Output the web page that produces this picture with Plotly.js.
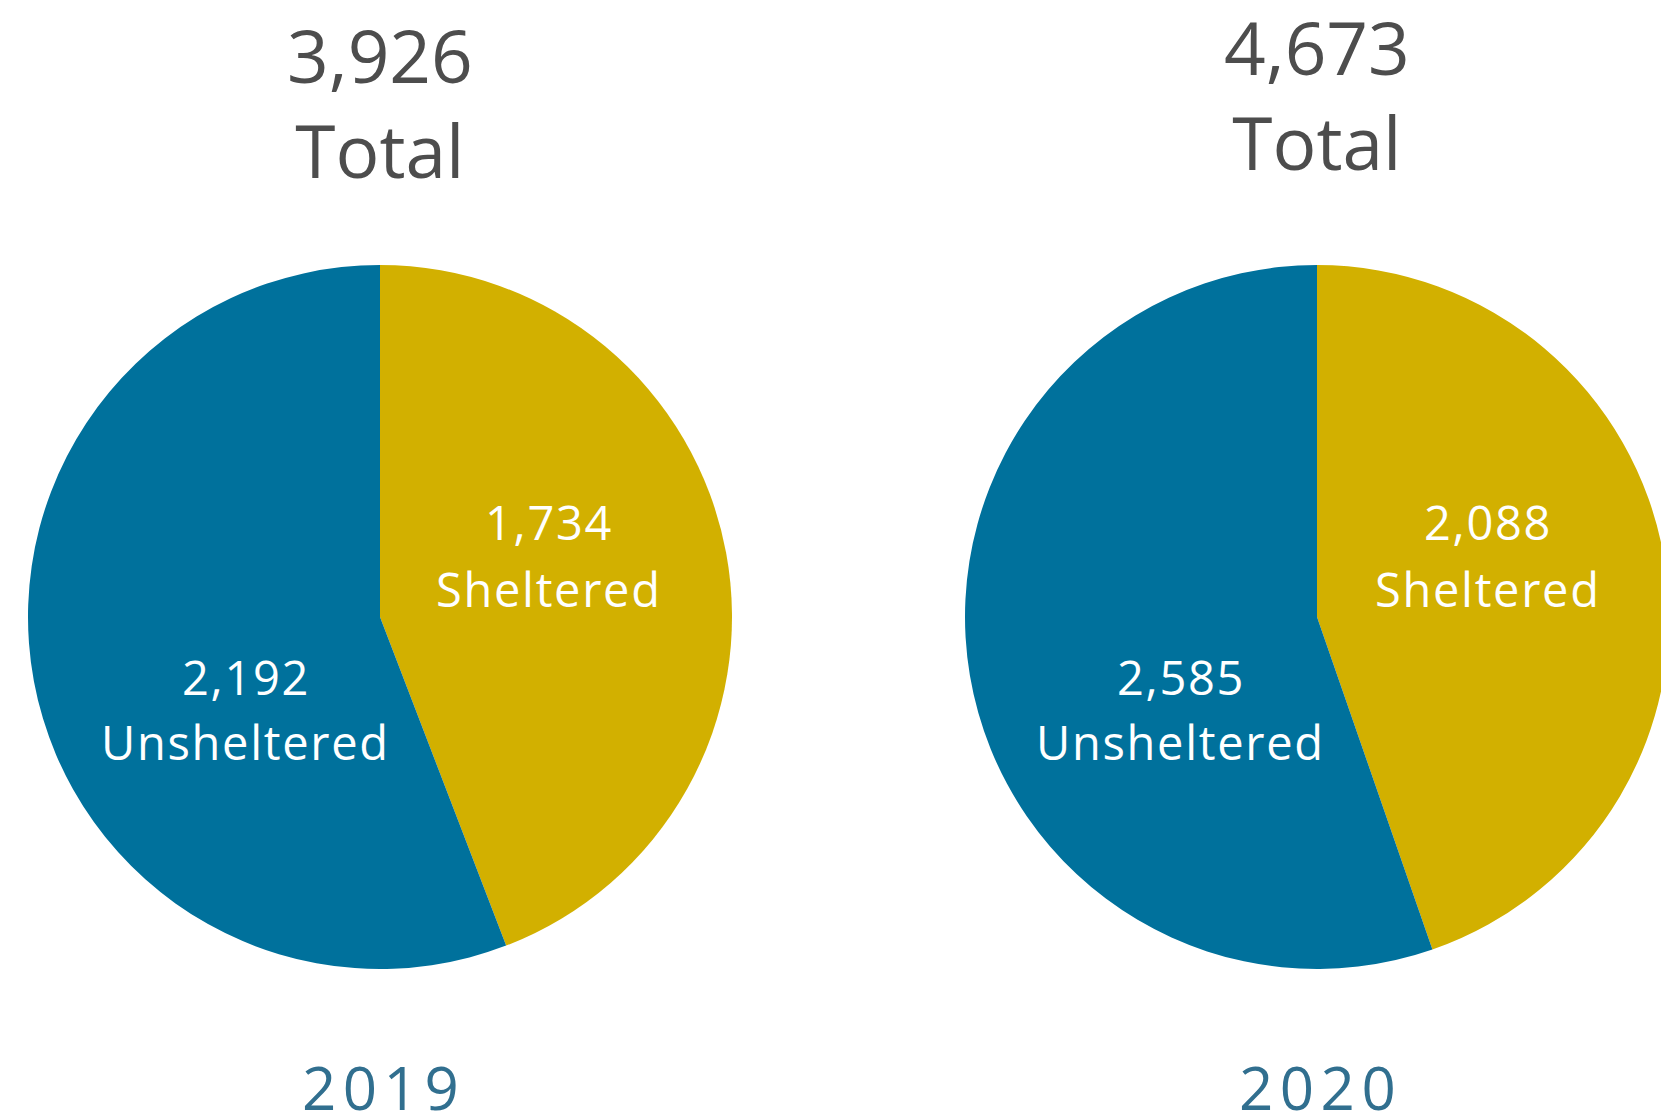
<!DOCTYPE html>
<html>
<head>
<meta charset="utf-8">
<script src="https://cdn.plot.ly/plotly-3.0.1.min.js"></script>
<style>
  html, body { margin: 0; padding: 0; overflow: hidden; background: #fff; }
  #chart { width: 1700px; height: 1116px; }
</style>
</head>
<body>
<div id="chart"></div>
<script>
// ---- data ----
const years = ['2019', '2020'];
const categories = ['Sheltered', 'Unsheltered'];
const sheltered = [1734, 2088];
const unsheltered = [2192, 2585];
const totals = [3926, 4673];
const totalLabel = 'Total';

// ---- styles ----
const W = 1700, H = 1116;
const FONT = 'Open Sans, Liberation Sans, sans-serif';
const colors = ['#d2b000', '#00719c'];
const titleColor = '#4d4d4d';
const yearColor = '#316f8f';

const fmt = v => v.toLocaleString('en-US');
const px = x => x / W;
const py = y => 1 - y / H;
const spaced = (t, s) => '<span style="letter-spacing:' + s + 'px">' + t + '</span>';

// pie geometry (pixel centres / radius)
const centers = [[380, 617], [1317, 617]];
const R = 352;

// label layout per pie (pixel)
const titleY = [102, 94];
const labelPos = [
  { sx: 548, sy: [522, 589], ux: 245, uy: [677, 742] },
  { sx: 1487, sy: [522, 589], ux: 1180, uy: [677, 742] }
];
const yearY = 1087;
const LBL = 47;
const LS = 1.7, YS = 6.5;

const data = years.map((yr, i) => ({
  type: 'pie',
  labels: categories,
  values: [sheltered[i], unsheltered[i]],
  sort: false,
  direction: 'clockwise',
  rotation: 0,
  textinfo: 'none',
  hoverinfo: 'label+value',
  marker: { colors: colors, line: { width: 0 } },
  domain: {
    x: [px(centers[i][0] - R), px(centers[i][0] + R)],
    y: [py(centers[i][1] + R), py(centers[i][1] - R)]
  },
  showlegend: false
}));

const annotations = [];
const ann = (text, x, y, size, color) => annotations.push({
  text: text, x: px(x), y: py(y), xref: 'paper', yref: 'paper',
  xanchor: 'center', yanchor: 'middle', showarrow: false,
  font: { family: FONT, size: size, color: color }
});

years.forEach((yr, i) => {
  const cx = centers[i][0];
  ann(fmt(totals[i]) + '<br>' + totalLabel, cx, titleY[i], 73, titleColor);
  const p = labelPos[i];
  ann(spaced(fmt(sheltered[i]), LS), p.sx + LS / 2, p.sy[0], LBL, '#ffffff');
  ann(spaced(categories[0], LS), p.sx + LS / 2, p.sy[1], LBL, '#ffffff');
  ann(spaced(fmt(unsheltered[i]), LS), p.ux + LS / 2, p.uy[0], LBL, '#ffffff');
  ann(spaced(categories[1], LS), p.ux + LS / 2, p.uy[1], LBL, '#ffffff');
  ann(spaced(yr, YS), cx + YS / 2, yearY, 60, yearColor);
});

const layout = {
  width: W, height: H,
  margin: { l: 0, r: 0, t: 0, b: 0 },
  paper_bgcolor: '#ffffff',
  plot_bgcolor: '#ffffff',
  annotations: annotations,
  font: { family: FONT }
};

Plotly.newPlot('chart', data, layout, { displayModeBar: false, staticPlot: true });
</script>
</body>
</html>
